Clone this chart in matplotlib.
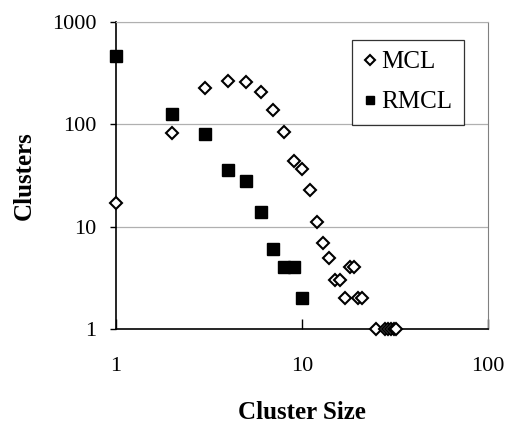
import matplotlib
matplotlib.use('Agg')
import matplotlib.pyplot as plt
from matplotlib.ticker import FixedLocator, NullLocator

# cluster size -> number of clusters
mcl_size = [1, 2, 3, 4, 5, 6, 7, 8, 9, 10, 11, 12, 13, 14, 15, 16, 17, 18, 19, 20, 21,
            25, 28, 29, 30, 31, 32]
mcl_count = [17, 83, 225, 267, 257, 205, 139, 85, 44, 37, 23, 11, 7, 5, 3, 3, 2, 4, 4, 2, 2,
             1, 1, 1, 1, 1, 1]

rmcl_size = [1, 2, 3, 4, 5, 6, 7, 8, 9, 10]
rmcl_count = [462, 125, 80, 36, 28, 14, 6, 4, 4, 2]

x_ticks = [1, 10, 100]
y_ticks = [1, 10, 100, 1000]

plt.rcParams['font.family'] = ['Liberation Serif', 'DejaVu Serif']

fig = plt.figure(figsize=(5.09, 4.23), dpi=100)
ax = fig.add_axes([0.228, 0.222, 0.731, 0.726])

ax.set_xscale('log')
ax.set_yscale('log')
ax.set_xlim(1, 100)
ax.set_ylim(1, 1000)

for y in [10, 100, 1000]:
    ax.axhline(y, color='#b0b0b0', lw=0.9, zorder=0)

ax.plot(mcl_size, mcl_count, 'D', ms=6.2, mfc='white', mec='black', mew=1.5,
        ls='none', label='MCL', clip_on=False, zorder=3)
ax.plot(rmcl_size, rmcl_count, 's', ms=8, mfc='black', mec='black',
        ls='none', label='RMCL', clip_on=False, zorder=3)

ax.xaxis.set_major_locator(FixedLocator(x_ticks))
ax.yaxis.set_major_locator(FixedLocator(y_ticks))
ax.xaxis.set_minor_locator(NullLocator())
ax.yaxis.set_minor_locator(NullLocator())
ax.set_xticklabels([str(v) for v in x_ticks])
ax.set_yticklabels([str(v) for v in y_ticks])
ax.tick_params(axis='x', direction='in', length=7, width=1, pad=20, labelsize=16)
ax.tick_params(axis='y', direction='out', length=4, width=1, pad=10, labelsize=16)

for side in ['left', 'bottom']:
    ax.spines[side].set_color('black')
    ax.spines[side].set_linewidth(1.2)
ax.spines['right'].set_color('#808080')
ax.spines['top'].set_color('#b0b0b0')

ax.set_xlabel('Cluster Size', fontsize=18, fontweight='bold', labelpad=18)
ax.set_ylabel('Clusters', fontsize=18, fontweight='bold', labelpad=12)

leg = ax.legend(loc='upper right', bbox_to_anchor=(0.935, 0.943), fontsize=18,
                frameon=True, fancybox=False, edgecolor='black', markerscale=0.75,
                handletextpad=0.15, handlelength=0.6, borderpad=0.45, labelspacing=0.7,
                borderaxespad=0)
leg.get_frame().set_linewidth(0.9)

plt.savefig('out.png', dpi=100)
